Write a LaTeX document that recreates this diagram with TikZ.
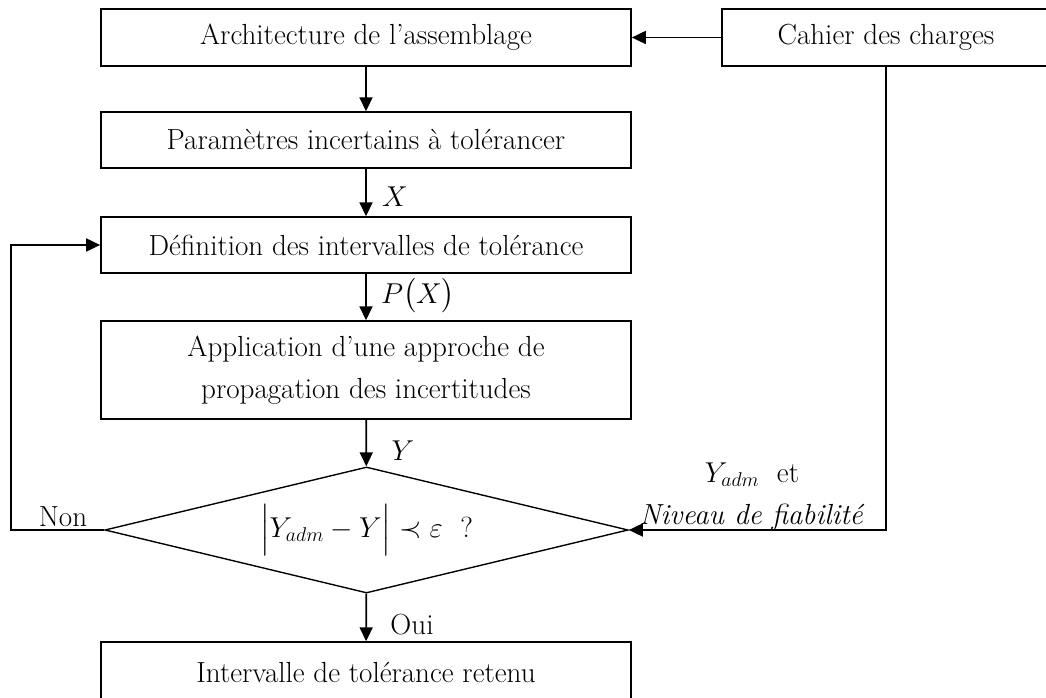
\documentclass[tikz,border=0pt]{standalone}
\usepackage{amsmath}
\usepackage{tikz}
\usetikzlibrary{shapes.geometric,arrows.meta}
\newcommand{\flowtext}{\fontsize{21}{30}\selectfont}

\begin{document}
\begin{tikzpicture}[x=0.01in,y=-0.01in,font=\flowtext,
  stepbox/.style={draw=black,fill=white,line width=1pt,minimum width=5.30in,align=center,inner sep=0pt},
  testbox/.style={draw=black,fill=white,line width=1pt,shape=diamond,aspect=4.15,inner sep=0pt,minimum width=5.23in,minimum height=1.26in},
  flow/.style={-{Triangle[length=0.14in,width=0.13in]},line width=1.3pt}]
\useasboundingbox (0,0) rectangle (1046,698);

\node[stepbox,minimum height=0.57in] (arch) at (366,37.5) {Architecture de l'assemblage};
\node[stepbox,minimum width=3.28in,minimum height=0.57in] (cahier) at (886,37.5) {Cahier des charges};
\node[stepbox,minimum height=0.56in] (param) at (366,140) {Paramètres incertains à tolérancer};
\node[stepbox,minimum height=0.56in] (defi) at (366,245) {Définition des intervalles de tolérance};
\node[stepbox,minimum height=0.98in] (appl) at (366,370) {Application d'une approche de\\propagation des incertitudes};
\node[testbox] (test) at (366.5,530) {$\Bigl|Y_{adm}-Y\Bigr|\prec\varepsilon$\ \ ?};
\node[stepbox,minimum height=0.60in] (result) at (366,672) {Intervalle de tolérance retenu};

% labels on the arrows
\node (lx) at (395,197) {$X$};
\node (lpx) at (418,296) {$P\bigl(X\bigr)$};
\node (ly) at (403,451) {$Y$};
\node (loui) at (412,625) {Oui};
\node (lnon) at (63,517) {Non};
\node (ladm) at (752,475) {$Y_{adm}$\ \ et};
\node (lniv) at (752,517) {\textit{Niveau de fiabilité}};

\coordinate (loop) at (11,530);

\draw[flow] (cahier) -- (arch);
\draw[flow] (arch) -- (param);
\draw[flow] (param) -- (defi);
\draw[flow] (defi) -- (appl);
\draw[flow] (appl) -- (test);
\draw[flow] (test) -- (result);
\draw[flow] (cahier.south) |- (test.east);
\draw[flow] (test.west) -- (loop) |- (defi.west);
\end{tikzpicture}
\end{document}
